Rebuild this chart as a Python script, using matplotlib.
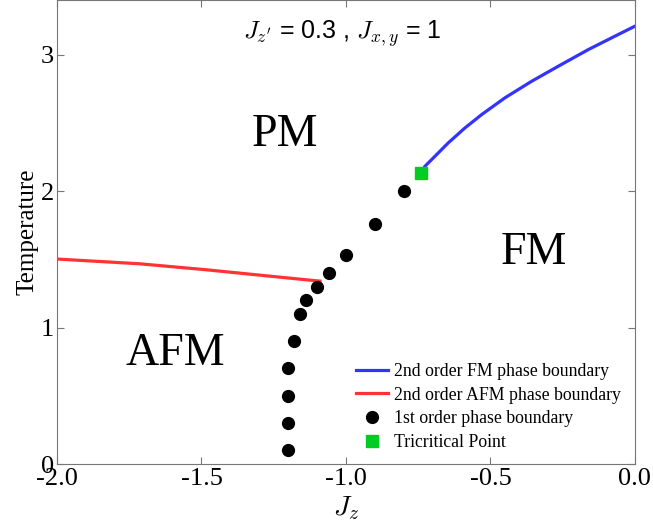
import matplotlib.pyplot as plt

plt.rcParams['font.family'] = ['Liberation Serif', 'DejaVu Serif']
plt.rcParams['mathtext.fontset'] = 'cm'
plt.rcParams['axes.unicode_minus'] = False

# 2nd order FM boundary (blue)
fm_jz = [-0.74, -0.727, -0.692, -0.646, -0.588, -0.530, -0.450, -0.357, -0.265, -0.161, -0.069, 0.0]
fm_t = [2.13, 2.181, 2.255, 2.353, 2.463, 2.561, 2.683, 2.805, 2.915, 3.037, 3.135, 3.208]

# 2nd order AFM boundary (red)
afm_jz = [-2.0, -1.713, -1.482, -1.252, -1.09]
afm_t = [1.502, 1.467, 1.423, 1.374, 1.340]

# 1st order boundary (black dots)
first_jz = [-0.8, -0.9, -1.0, -1.06, -1.1, -1.14, -1.16, -1.18, -1.2, -1.2, -1.2, -1.2]
first_t = [2.0, 1.76, 1.53, 1.40, 1.30, 1.20, 1.10, 0.90, 0.70, 0.50, 0.30, 0.10]

# tricritical point
tcp_jz = [-0.74]
tcp_t = [2.13]

xticks = [-2.0, -1.5, -1.0, -0.5, 0.0]
yticks = [0, 1, 2, 3]

fig = plt.figure(figsize=(6.53, 5.30), dpi=100)
ax = fig.add_axes([0.0873, 0.1245, 0.885, 0.8755])

ax.plot(fm_jz, fm_t, color='#3333ff', lw=2.3, label='2nd order FM phase boundary')
ax.plot(afm_jz, afm_t, color='#ff3333', lw=2.3, label='2nd order AFM phase boundary')
ax.plot(first_jz, first_t, 'o', color='black', ms=8.5, ls='none', label='1st order phase boundary')
ax.plot(tcp_jz, tcp_t, 's', color='#00cc22', ms=8.5, ls='none', label='Tricritical Point')

ax.set_xlim(-2, 0)
ax.set_ylim(0, 3.4)
ax.set_xticks(xticks)
ax.set_xticklabels(['%.1f' % v for v in xticks])
ax.set_yticks(yticks)
ax.set_yticklabels([str(v) for v in yticks])
ax.tick_params(direction='in', top=True, right=True, length=5, color='#777777',
               labelsize=19, pad=2)
ax.tick_params(axis='x', pad=3)
for s in ax.spines.values():
    s.set_color('#777777')

ax.set_xlabel('$J_z$', fontsize=20, labelpad=3)
ax.set_ylabel('Temperature', fontsize=18, labelpad=2)

ax.text(-1.014, 3.15, "$J_{z'}$ = 0.3 , $J_{x,y}$ = 1", fontsize=18,
        family='Liberation Sans', ha='center', va='center')

ax.text(-1.21, 2.41, 'PM', fontsize=33, ha='center', va='center')
ax.text(-0.35, 1.55, 'FM', fontsize=33, ha='center', va='center')
ax.text(-1.59, 0.81, 'AFM', fontsize=33, ha='center', va='center')

ax.legend(loc='upper left', bbox_to_anchor=(0.517, 0.218), frameon=False,
          fontsize=12.8, handlelength=1.8, handletextpad=0.35, labelspacing=0.38,
          borderpad=0, borderaxespad=0)

fig.savefig('out.png', dpi=100)
